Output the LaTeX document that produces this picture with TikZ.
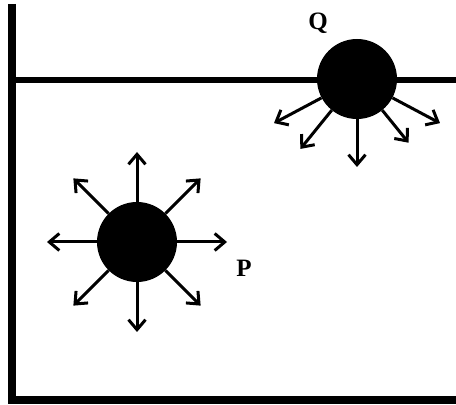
\documentclass[tikz,border=0pt]{standalone}
\usepackage{fontspec}
\setmainfont{Liberation Serif}
\usetikzlibrary{arrows.meta}
\begin{document}
\begin{tikzpicture}[x=1pt,y=1pt,
  wall/.style={line width=7.5pt,line join=miter},
  surface/.style={line width=6.5pt},
  ball/.style={circle,fill=black,minimum size=80pt,inner sep=0pt},
  force/.style={line width=3pt,-{Straight Barb[length=10pt,width=17pt,line width=3pt]}},
  lbl/.style={font=\fontsize{25}{30}\selectfont\bfseries,inner sep=0pt}]
\useasboundingbox (0,0) rectangle (456,405);
% container
\coordinate (wtop) at (12,401);
\coordinate (wcorner) at (12,5);
\coordinate (wend) at (460,5);
\draw[wall] (wtop) -- (wcorner) -- (wend);
\coordinate (s1) at (12,325);
\coordinate (s2) at (460,325);
\draw[surface] (s1) -- (s2);
% molecules
\node[ball] (Q) at (357,326) {};
\node[ball] (P) at (137,163) {};
\node[lbl] (lq) at (318,382) {Q};
\node[lbl] (lp) at (244,137) {P};
% forces on P
\foreach \a in {0,45,...,315}{
  \path (P) ++(\a:90) coordinate (p\a);
  \draw[force] (P) -- (p\a);
}
% forces on Q
\foreach \a/\r in {-28/94,-51/82,-90/88,-129/90,-152/94}{
  \path (Q) ++(\a:\r) coordinate (q\a);
  \draw[force] (Q) -- (q\a);
}
\end{tikzpicture}
\end{document}
